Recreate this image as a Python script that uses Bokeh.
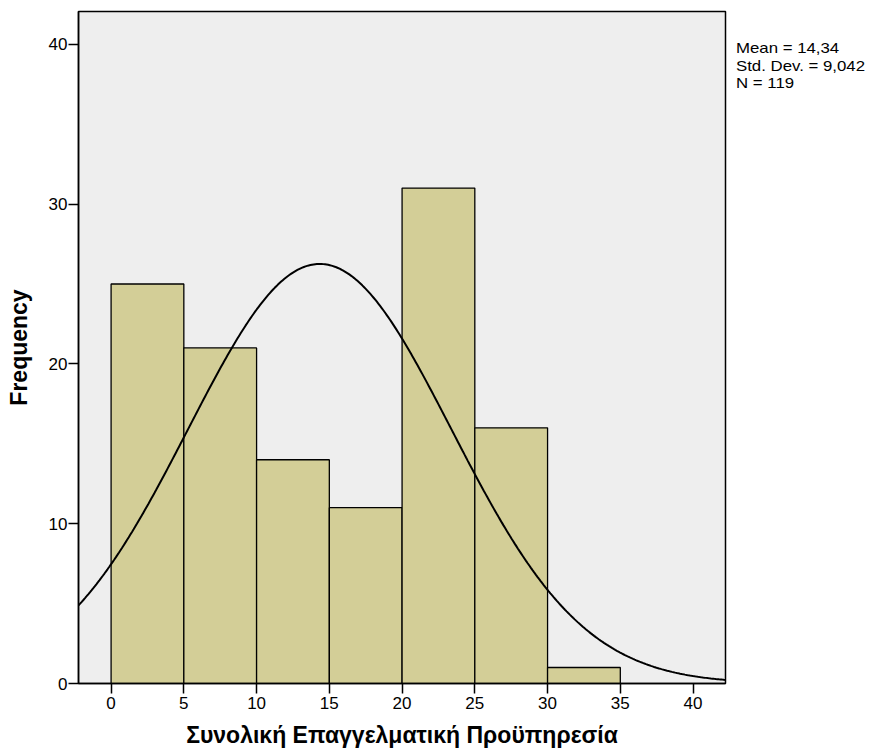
import numpy as np
from bokeh.plotting import figure
from bokeh.layouts import row
from bokeh.models import Div, FixedTicker
from bokeh.embed import file_html
from bokeh.resources import INLINE

# Histogram of total professional experience (years), bin width 5
bin_left = [0, 5, 10, 15, 20, 25, 30]
bin_right = [5, 10, 15, 20, 25, 30, 35]
counts = [25, 21, 14, 11, 31, 16, 1]

mean_val = 14.34
sd_val = 9.042
n_val = 119
bin_width = 5

stats_lines = ["Mean = 14,34", "Std. Dev. = 9,042", "N = 119"]

x_ticks = [0, 5, 10, 15, 20, 25, 30, 35, 40]
y_ticks = [0, 10, 20, 30, 40]

FONT = "Liberation Sans"

p = figure(
    width=731, height=756,
    x_range=(-2.24, 42.23), y_range=(0, 42.05),
    output_backend="svg", toolbar_location=None,
    min_border_left=78, min_border_right=6,
    min_border_top=11, min_border_bottom=73,
)
p.background_fill_color = "#eeeeee"
p.border_fill_color = "white"
p.outline_line_color = "black"
p.outline_line_width = 1.5
p.grid.visible = False

p.quad(left=bin_left, right=bin_right, bottom=0, top=counts,
       fill_color="#d3ce97", line_color="black", line_width=1.3)

# Fitted normal curve scaled to counts per bin
xs = np.linspace(-2.24, 42.23, 400)
ys = n_val * bin_width / (sd_val * np.sqrt(2 * np.pi)) * np.exp(-0.5 * ((xs - mean_val) / sd_val) ** 2)
p.line(xs, ys, line_color="black", line_width=2)

for ax in (p.xaxis[0], p.yaxis[0]):
    ax.axis_line_color = "black"
    ax.axis_line_width = 1.5
    ax.major_tick_line_color = "black"
    ax.major_tick_line_width = 1.5
    ax.major_tick_out = 10
    ax.major_tick_in = 0
    ax.minor_tick_line_color = None
    ax.major_label_text_font = FONT
    ax.major_label_text_font_size = "17px"
    ax.major_label_text_color = "black"
    ax.axis_label_text_font = FONT
    ax.axis_label_text_font_style = "bold"
    ax.axis_label_text_font_size = "23px"
    ax.axis_label_text_color = "black"

p.xaxis.ticker = FixedTicker(ticks=x_ticks)
p.yaxis.ticker = FixedTicker(ticks=y_ticks)
p.xaxis.axis_label = "Συνολική Επαγγελματική Προϋπηρεσία"
p.yaxis.axis_label = "Frequency"
p.xaxis.major_label_standoff = 3
p.yaxis.major_label_standoff = 1
p.xaxis.axis_label_standoff = 10
p.yaxis.axis_label_standoff = 14

# Summary statistics shown beside the plot area
line_style = (
    f"font-family:'{FONT}';font-size:15px;line-height:17.5px;"
    "color:black;white-space:nowrap;margin:0;padding:0;"
)
block_style = "transform:scaleX(1.12);transform-origin:0 0;"
stats = Div(
    text=f'<div style="{block_style}">'
         + "".join(f'<div style="{line_style}">{s}</div>' for s in stats_lines)
         + "</div>",
    width=134, height=60,
    margin=(39, 0, 0, 5),
)

layout = row(p, stats)
open("out.html", "w").write(file_html(layout, INLINE))
